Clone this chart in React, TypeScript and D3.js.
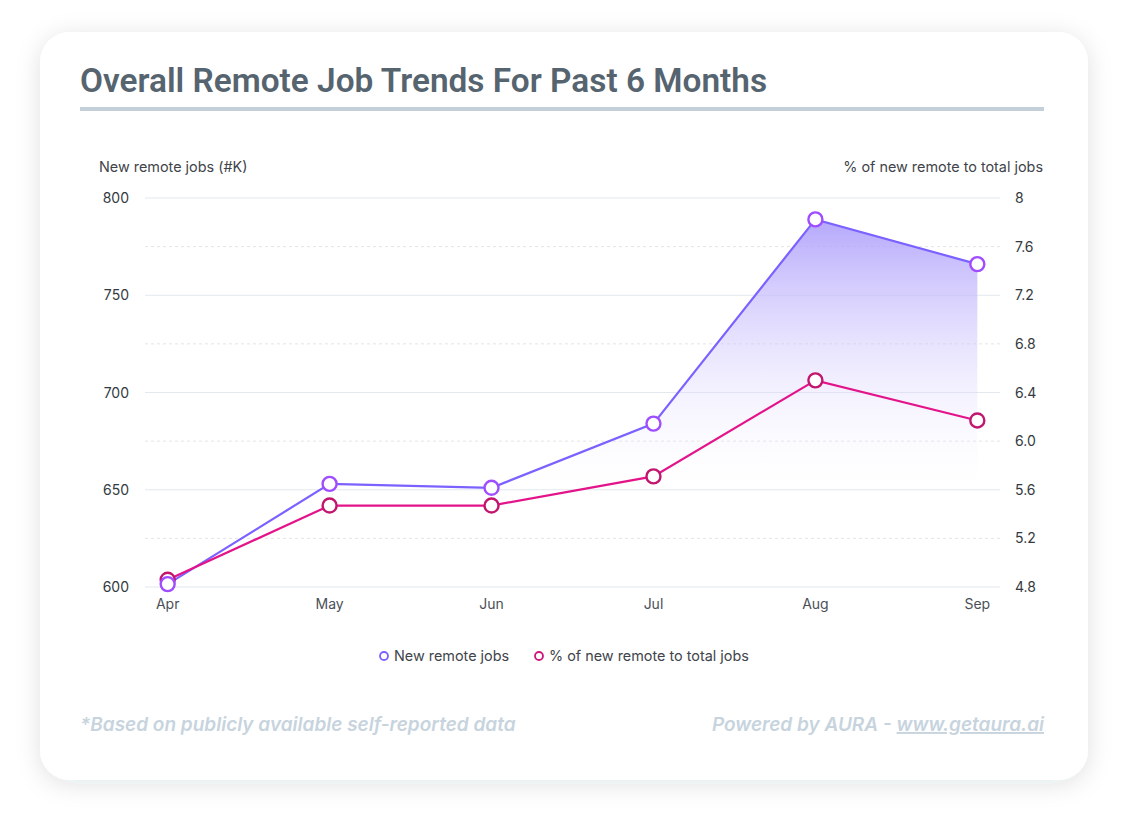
import React from 'react';
import * as d3 from 'd3';

const months = ['Apr', 'May', 'Jun', 'Jul', 'Aug', 'Sep'];
const newJobs = [601.5, 653, 651, 684, 789, 766];
const pctJobs = [4.86, 5.47, 5.47, 5.71, 6.5, 6.17];
const leftTicks = [600, 650, 700, 750, 800];
const rightTicks = ['4.8', '5.2', '5.6', '6.0', '6.4', '6.8', '7.2', '7.6', '8'];
const seriesNames = ['New remote jobs', '% of new remote to total jobs'];

const W = 1128, H = 828;
const m = { l: 145, r: 1000, t: 198, b: 587 };
const FONT = 'Inter, "Noto Sans", sans-serif';

export default function App() {
  const x = d3.scalePoint().domain(months).range([m.l, m.r]).padding(0.14);
  const yL = d3.scaleLinear().domain([600, 800]).range([m.b, m.t]);
  const yR = d3.scaleLinear().domain([4.8, 8]).range([m.b, m.t]);

  const jobPts = months.map((mo, i) => [x(mo) as number, yL(newJobs[i])] as [number, number]);
  const pctPts = months.map((mo, i) => [x(mo) as number, yR(pctJobs[i])] as [number, number]);
  const line = d3.line();
  const area = d3.area<[number, number]>().x(d => d[0]).y0(yL(650) + 15).y1(d => d[1]);
  const topY = yL(d3.max(newJobs) as number);

  // dashed lines halfway between the labelled ones
  const minor = leftTicks.slice(1).map((t, i) => (t + leftTicks[i]) / 2);

  return (
    <div style={{ position: 'absolute', left: 0, top: 0 }}>
      <svg width={W} height={H} style={{ display: 'block', fontFamily: FONT }}>
        <defs>
          <filter id="shadow" x="-10%" y="-10%" width="120%" height="120%">
            <feDropShadow dx="0" dy="4" stdDeviation="12" floodColor="#1a2a3a" floodOpacity="0.12" />
          </filter>
          <linearGradient id="fade" gradientUnits="userSpaceOnUse" x1="0" x2="0" y1={topY} y2={yL(650) + 15}>
            <stop offset="0" stopColor="#a899fb" stopOpacity="0.85" />
            <stop offset="1" stopColor="#ffffff" stopOpacity="0" />
          </linearGradient>
        </defs>
        <rect width={W} height={H} fill="#fff" />
        <rect x={40} y={32} width={1048} height={748} rx={30} fill="#fff" filter="url(#shadow)" />

        <text x={80} y={92} fontSize={33.4} fontWeight={600} fill="#56646f" fontFamily='Roboto, sans-serif'>Overall Remote Job Trends For Past 6 Months</text>
        <rect x={80} y={107} width={964} height={4} fill="#c3d0da" />

        <text x={99} y={172} fontSize={14.4} fill="#3f444a">New remote jobs (#K)</text>
        <text x={1043} y={172} fontSize={14.4} fill="#3f444a" textAnchor="end">% of new remote to total jobs</text>

        {leftTicks.map(t => (
          <line key={'g' + t} x1={m.l} x2={m.r} y1={yL(t)} y2={yL(t)} stroke="#e2e8ee" strokeWidth={1} />
        ))}
        {minor.map(t => (
          <line key={'d' + t} x1={m.l} x2={m.r} y1={yL(t)} y2={yL(t)} stroke="#e4e4e4" strokeWidth={1} strokeDasharray="3,3" />
        ))}
        {leftTicks.map(t => (
          <text key={'l' + t} x={129} y={yL(t) + 5} fontSize={14} fill="#333a40" textAnchor="end">{t}</text>
        ))}
        {rightTicks.map(t => (
          <text key={'r' + t} x={1015} y={yR(+t) + 5} fontSize={14} fill="#333a40">{t}</text>
        ))}
        {months.map(mo => (
          <text key={mo} x={x(mo)} y={609} fontSize={14} fill="#4a5058" textAnchor="middle">{mo}</text>
        ))}

        <path d={area(jobPts) || ''} fill="url(#fade)" />
        <path d={line(jobPts) || ''} fill="none" stroke="#7b61ff" strokeWidth={2.2} />
        <path d={line(pctPts) || ''} fill="none" stroke="#e3148a" strokeWidth={2.2} />
        {pctPts.map((p, i) => (
          <circle key={'p' + i} cx={p[0]} cy={p[1]} r={7} fill="#fff" stroke="#c2166e" strokeWidth={2.4} />
        ))}
        {jobPts.map((p, i) => (
          <circle key={'j' + i} cx={p[0]} cy={p[1]} r={7} fill="#fff" stroke="#a04cff" strokeWidth={2.4} />
        ))}

        <circle cx={384} cy={656} r={4} fill="#fff" stroke="#7b61ff" strokeWidth={1.8} />
        <text x={394} y={661} fontSize={14.4} fill="#3f444a">{seriesNames[0]}</text>
        <circle cx={539} cy={656} r={4} fill="#fff" stroke="#d0167a" strokeWidth={1.8} />
        <text x={549} y={661} fontSize={14.4} fill="#3f444a">{seriesNames[1]}</text>

        <text x={80} y={731} fontSize={19} fontStyle="italic" fontWeight={600} fill="#c7d4de">*Based on publicly available self-reported data</text>
        <text x={1044} y={731} fontSize={19} fontStyle="italic" fontWeight={600} fill="#c7d4de" textAnchor="end">
          Powered by AURA - <tspan textDecoration="underline">www.getaura.ai</tspan>
        </text>
      </svg>
    </div>
  );
}
